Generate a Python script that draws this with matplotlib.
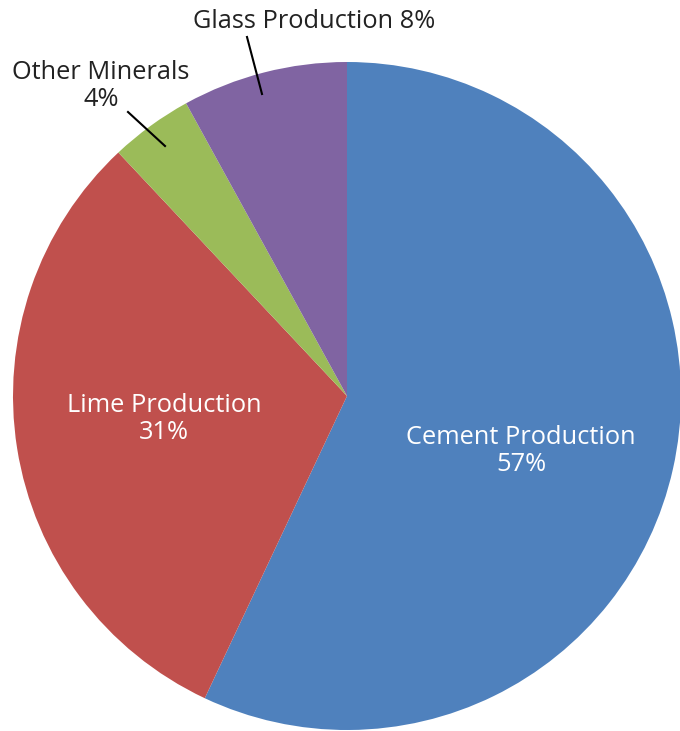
import matplotlib
matplotlib.use("Agg")
import matplotlib.pyplot as plt
import numpy as np

categories = ["Cement Production", "Lime Production", "Other Minerals", "Glass Production"]
values = [57, 31, 4, 8]
colors = ["#4F81BD", "#C0504D", "#9BBB59", "#8064A2"]

W, H = 680, 731
fig = plt.figure(figsize=(W / 100, H / 100), dpi=100)
ax = fig.add_axes([0, 0, 1, 1])

cx, cy, r = 347, H - 396, 334
ax.pie(values, colors=colors, startangle=90, counterclock=False,
       center=(cx, cy), radius=r, frame=True,
       wedgeprops=dict(linewidth=0))
ax.set_xlim(0, W)
ax.set_ylim(0, H)
ax.set_aspect("equal")
ax.axis("off")

font = "Open Sans"
fs = 18.3

# inside labels
ax.text(521, H - 451, f"{categories[0]}\n{values[0]}%", color="white",
        ha="center", va="center", fontsize=fs, family=font, linespacing=1.1)
ax.text(164, H - 419, f"{categories[1]}\n{values[1]}%", color="white",
        ha="center", va="center", fontsize=fs, family=font, linespacing=1.1)

# outside labels
ax.text(101, H - 86, f"{categories[2]}\n{values[2]}%", color="#222222",
        ha="center", va="center", fontsize=fs, family=font, linespacing=1.1)
ax.text(314, H - 22, f"{categories[3]} {values[3]}%", color="#222222",
        ha="center", va="center", fontsize=fs, family=font)

# leader lines
ax.plot([247, 262], [H - 37, H - 94], color="black", lw=1.5)
ax.plot([128, 165], [H - 112, H - 146], color="black", lw=1.5)

fig.savefig("out.png", dpi=100, facecolor="white")
